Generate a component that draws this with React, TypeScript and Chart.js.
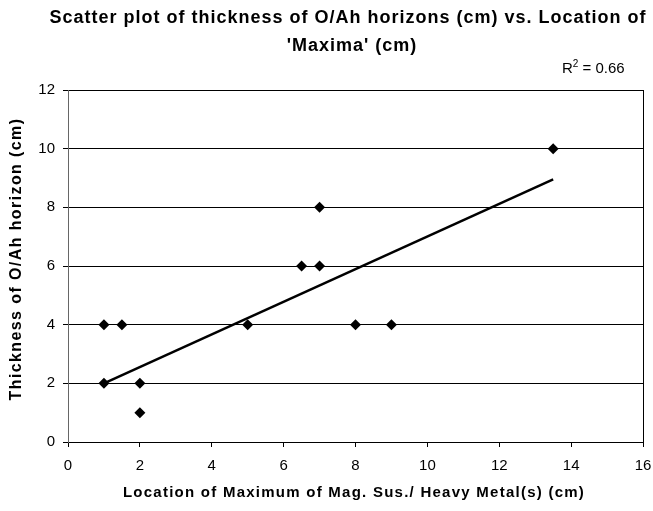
import React, { useEffect, useRef } from "react";
import { Chart, registerables } from "chart.js";

Chart.register(...registerables);

const titleLines = [
  "Scatter plot of thickness of O/Ah horizons (cm) vs. Location of",
  "'Maxima' (cm)",
];
const rSquaredLabel = "0.66";
const xAxisTitle = "Location of Maximum of Mag. Sus./ Heavy Metal(s) (cm)";
const yAxisTitle = "Thickness of O/Ah horizon (cm)";

const xValues = [1, 1.5, 1, 2, 2, 5, 6.5, 7, 7, 8, 9, 13.5];
const yValues = [4, 4, 2, 2, 1, 4, 6, 6, 8, 4, 4, 10];
const trendX = [1, 13.5];
const trendY = [2.0, 8.95];

const xTicks = [0, 2, 4, 6, 8, 10, 12, 14, 16];
const yTicks = [0, 2, 4, 6, 8, 10, 12];

const FONT = "'Liberation Sans', Arial, sans-serif";

function spacedText(ctx: any, text: string, x: number, y: number, spacing: string) {
  ctx.letterSpacing = spacing;
  ctx.fillText(text, x, y);
  ctx.letterSpacing = "0px";
}

const decorPlugin = {
  id: "decor",
  afterDraw(chart: any) {
    const { ctx, chartArea } = chart;
    ctx.save();
    // right border of plot area
    ctx.strokeStyle = "#000";
    ctx.lineWidth = 1;
    ctx.beginPath();
    ctx.moveTo(Math.round(chartArea.right) + 0.5, chartArea.top);
    ctx.lineTo(Math.round(chartArea.right) + 0.5, chartArea.bottom);
    ctx.stroke();

    ctx.fillStyle = "#000";
    ctx.textBaseline = "alphabetic";

    // title
    ctx.textAlign = "center";
    ctx.font = `bold 18px ${FONT}`;
    spacedText(ctx, titleLines[0], 348, 23, "1px");
    spacedText(ctx, titleLines[1], 352, 51, "1px");

    // x axis title
    ctx.font = `bold 15px ${FONT}`;
    ctx.textBaseline = "middle";
    spacedText(ctx, xAxisTitle, 354, 493, "1.25px");

    // y axis title
    ctx.save();
    ctx.translate(17, 259);
    ctx.rotate(-Math.PI / 2);
    ctx.font = `bold 16px ${FONT}`;
    spacedText(ctx, yAxisTitle, 0, 0, "1.4px");
    ctx.restore();

    // R squared
    ctx.textBaseline = "alphabetic";
    ctx.textAlign = "left";
    ctx.font = `15px ${FONT}`;
    let x = 562;
    const base = 73;
    ctx.fillText("R", x, base);
    x += ctx.measureText("R").width;
    ctx.font = `10px ${FONT}`;
    ctx.fillText("2", x, base - 6);
    x += ctx.measureText("2").width;
    ctx.font = `15px ${FONT}`;
    ctx.fillText(" = " + rSquaredLabel, x, base);
    ctx.restore();
  },
};

export default function App() {
  const canvasRef = useRef<HTMLCanvasElement | null>(null);

  useEffect(() => {
    document.body.style.margin = "0";
    const canvas = canvasRef.current;
    if (!canvas) return;
    const chart = new Chart(canvas, {
      type: "scatter",
      data: {
        datasets: [
          {
            type: "scatter",
            data: xValues.map((x, i) => ({ x, y: yValues[i] })),
            pointStyle: "rectRot",
            pointRadius: 5.5,
            pointBackgroundColor: "#000",
            pointBorderColor: "#000",
            pointBorderWidth: 0,
          },
          {
            type: "line",
            data: trendX.map((x, i) => ({ x, y: trendY[i] })),
            borderColor: "#000",
            borderWidth: 2.5,
            pointRadius: 0,
            fill: false,
          } as any,
        ],
      },
      options: {
        animation: false,
        responsive: false,
        devicePixelRatio: 1,
        layout: { padding: { top: 90, right: 10, left: 0, bottom: 0 } },
        plugins: {
          legend: { display: false },
          tooltip: { enabled: false },
          title: { display: false },
        },
        scales: {
          x: {
            type: "linear",
            min: 0,
            max: 16,
            afterBuildTicks: (scale: any) => {
              scale.ticks = xTicks.map((v) => ({ value: v }));
            },
            afterFit: (scale: any) => {
              scale.height = 69;
              scale.paddingLeft = 0;
              scale.paddingRight = 0;
            },
            grid: {
              drawOnChartArea: false,
              drawTicks: true,
              tickLength: 5,
              color: "#000",
              tickColor: "#000",
            },
            border: { display: true, color: "#000", width: 1 },
            ticks: {
              font: { family: FONT, size: 15 },
              color: "#000",
              padding: 10,
              maxRotation: 0,
            },
            title: { display: false },
          },
          y: {
            type: "linear",
            min: 0,
            max: 12,
            afterBuildTicks: (scale: any) => {
              scale.ticks = yTicks.map((v) => ({ value: v }));
            },
            afterFit: (scale: any) => {
              scale.width = 68;
              scale.paddingTop = 0;
              scale.paddingBottom = 0;
            },
            grid: {
              drawOnChartArea: true,
              drawTicks: true,
              tickLength: 5,
              color: (c: any) => (c.tick && c.tick.value === 0 ? "transparent" : "#000"),
              tickColor: "#000",
            },
            border: { display: true, color: "#666", width: 1 },
            ticks: {
              font: { family: FONT, size: 15 },
              color: "#000",
              padding: 8,
            },
            title: { display: false },
          },
        },
      },
      plugins: [decorPlugin],
    });
    return () => chart.destroy();
  }, []);

  return (
    <div style={{ width: 653, height: 511 }}>
      <canvas ref={canvasRef} width={653} height={511} style={{ width: 653, height: 511, display: "block" }} />
    </div>
  );
}
